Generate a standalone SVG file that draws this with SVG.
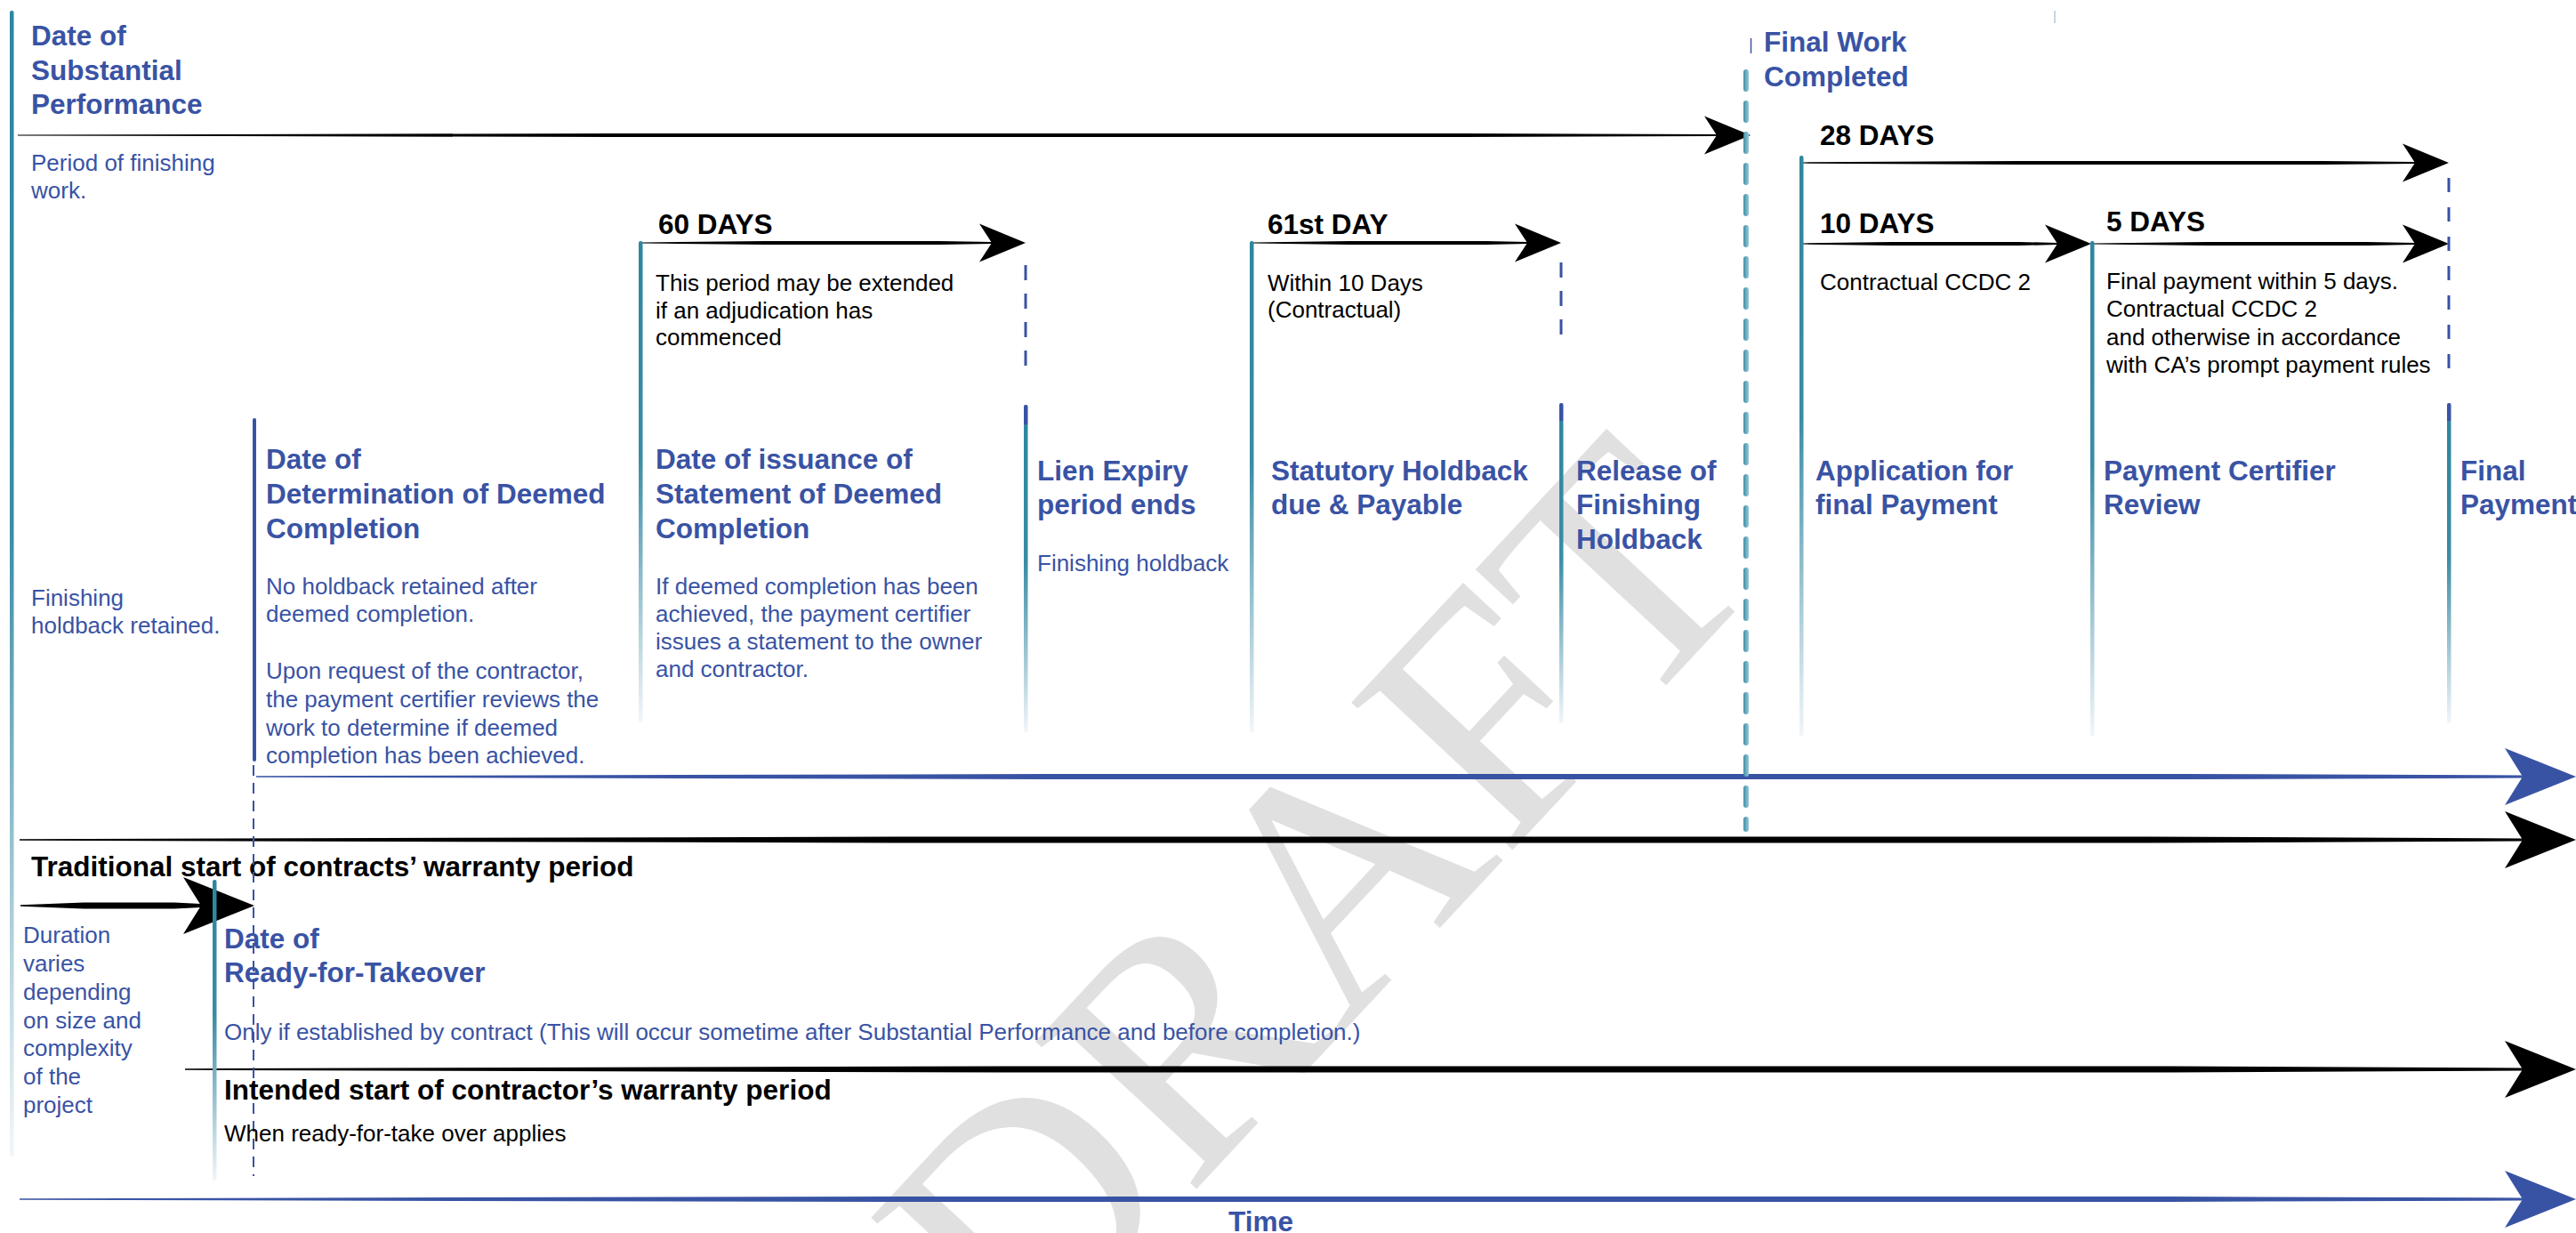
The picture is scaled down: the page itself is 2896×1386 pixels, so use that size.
<svg xmlns="http://www.w3.org/2000/svg" xmlns:xlink="http://www.w3.org/1999/xlink" width="2896" height="1386" viewBox="0 0 2896 1386">
<style>
text{font-family:"Liberation Sans",Arial,sans-serif}
.hb{font-size:31.5px;font-weight:bold;fill:#3953a4}
.hk{font-size:31.5px;font-weight:bold;fill:#000}
.tb{font-size:26px;fill:#3953a4}
.tk{font-size:26px;fill:#000}
.wm{font-family:"Liberation Serif","Times New Roman",serif;font-size:375px;fill:#e0e0e0}
.bar{fill:url(#tealFade)}
.cap{fill:#3953a4}
.dash{stroke:#3953a4;stroke-width:3;fill:none;stroke-dasharray:17 15}
.k{fill:#000}
.b{fill:#3953a4}
</style>
<defs>
<linearGradient id="tealFade" x1="0" y1="0" x2="0" y2="1">
<stop offset="0" stop-color="#2e86a0"/>
<stop offset="0.45" stop-color="#3a8ca4"/>
<stop offset="1" stop-color="#f2f6fa"/>
</linearGradient>
<linearGradient id="fwGrad" gradientUnits="userSpaceOnUse" x1="1959" y1="0" x2="1968" y2="0">
<stop offset="0" stop-color="#2e86a0"/>
<stop offset="1" stop-color="#b9dbe4"/>
</linearGradient>
<path id="headM" d="M0,0 L-52,-21.5 L-38,0 L-52,21.5 Z"/>
<path id="headL" d="M0,0 L-80,-32 L-60,0 L-80,32 Z"/>
</defs>
<rect width="2896" height="1386" fill="#fff"/>

<g id="watermark">
<text class="wm" text-anchor="middle" transform="translate(1480,1010) rotate(-47)" x="0" y="124">DRAFT</text>
</g>

<g id="connectors">
<g id="arrow-finishing-period" class="k">
<path d="M20,151.4 L688,150 L1644,150 L1930,151 L1930,153 L1644,154 L688,154 L20,152.6 Z"/>
<use xlink:href="#headM" transform="translate(1968,152)"/>
</g>
<g id="arrow-60-days" class="k">
<path d="M722,272.4 L860,271 L1056,271 L1115,272 L1115,274 L1056,275 L860,275 L722,273.6 Z"/>
<use xlink:href="#headM" transform="translate(1153,273)"/>
</g>
<g id="arrow-61st-day" class="k">
<path d="M1409,272.4 L1517,271 L1671,271 L1717,272 L1717,274 L1671,275 L1517,275 L1409,273.6 Z"/>
<use xlink:href="#headM" transform="translate(1755,273)"/>
</g>
<g id="arrow-28-days" class="k">
<path d="M2027,182.4 L2268,181 L2612,181 L2715,182 L2715,184 L2612,185 L2268,185 L2027,183.6 Z"/>
<use xlink:href="#headM" transform="translate(2753,183)"/>
</g>
<g id="arrow-10-days" class="k">
<path d="M2027,273.4 L2127,272 L2270,272 L2313,273 L2313,275 L2270,276 L2127,276 L2027,274.6 Z"/>
<use xlink:href="#headM" transform="translate(2351,274)"/>
</g>
<g id="arrow-5-days" class="k">
<path d="M2354,273.4 L2480,272 L2661,272 L2715,273 L2715,275 L2661,276 L2480,276 L2354,274.6 Z"/>
<use xlink:href="#headM" transform="translate(2753,274)"/>
</g>
<g id="arrow-deemed" class="b">
<path d="M288,872.2 L1180,870 L2454,870 L2836,871.5 L2836,874.5 L2454,876 L1180,876 L288,873.8 Z"/>
<use xlink:href="#headL" transform="translate(2896,873)"/>
</g>
<g id="arrow-traditional" class="k">
<path d="M22,943.2 L1007,940.5 L2414,940.5 L2836,942.5 L2836,945.5 L2414,947.5 L1007,947.5 L22,944.8 Z"/>
<use xlink:href="#headL" transform="translate(2896,944)"/>
</g>
<g id="arrow-duration" class="k">
<path d="M23,1017.2 L94,1014.5 L196,1014.5 L226,1016 L226,1020 L196,1021.5 L94,1021.5 L23,1018.8 Z"/>
<use xlink:href="#headL" transform="translate(286,1018)"/>
</g>
<g id="arrow-intended" class="k">
<path d="M208,1201.2 L1128,1198.5 L2442,1198.5 L2836,1200.5 L2836,1203.5 L2442,1205.5 L1128,1205.5 L208,1202.8 Z"/>
<use xlink:href="#headL" transform="translate(2896,1202)"/>
</g>
<g id="arrow-time" class="b">
<path d="M22,1347.2 L1000,1345 L2440,1345 L2836,1346.5 L2836,1349.5 L2440,1351 L1000,1351 L22,1348.8 Z"/>
<use xlink:href="#headL" transform="translate(2896,1348)"/>
</g>
</g>

<g id="node-substantial-performance">
<rect class="bar" x="11" y="12" width="4.5" height="1288" rx="2"/>
<text class="hb" x="35" y="51">Date of</text>
<text class="hb" x="35" y="90">Substantial</text>
<text class="hb" x="35" y="128">Performance</text>
<text class="tb" x="35" y="192">Period of finishing</text>
<text class="tb" x="35" y="223">work.</text>
<text class="tb" x="35" y="681">Finishing</text>
<text class="tb" x="35" y="712">holdback retained.</text>
</g>

<g id="node-deemed-determination">
<rect class="cap" x="284" y="470" width="4" height="386" rx="2"/>
<text class="hb" x="299" y="527">Date of</text>
<text class="hb" x="299" y="566">Determination of Deemed</text>
<text class="hb" x="299" y="605">Completion</text>
<text class="tb" x="299" y="668">No holdback retained after</text>
<text class="tb" x="299" y="699">deemed completion.</text>
<text class="tb" x="299" y="763">Upon request of the contractor,</text>
<text class="tb" x="299" y="795">the payment certifier reviews the</text>
<text class="tb" x="299" y="827">work to determine if deemed</text>
<text class="tb" x="299" y="858">completion has been achieved.</text>
</g>

<g id="node-statement-issuance">
<rect class="bar" x="718" y="271" width="4.5" height="541" rx="2"/>
<text class="hk" x="740" y="263">60 DAYS</text>
<text class="tk" x="737" y="327">This period may be extended</text>
<text class="tk" x="737" y="358">if an adjudication has</text>
<text class="tk" x="737" y="388">commenced</text>
<text class="hb" x="737" y="527">Date of issuance of</text>
<text class="hb" x="737" y="566">Statement of Deemed</text>
<text class="hb" x="737" y="605">Completion</text>
<text class="tb" x="737" y="668">If deemed completion has been</text>
<text class="tb" x="737" y="699">achieved, the payment certifier</text>
<text class="tb" x="737" y="730">issues a statement to the owner</text>
<text class="tb" x="737" y="761">and contractor.</text>
</g>

<g id="node-lien-expiry">
<line class="dash" x1="1153" y1="298" x2="1153" y2="420"/>
<rect class="cap" x="1151" y="455" width="4.5" height="24" rx="2"/>
<rect class="bar" x="1151" y="477" width="4.5" height="346" rx="2"/>
<text class="hb" x="1166" y="540">Lien Expiry</text>
<text class="hb" x="1166" y="578">period ends</text>
<text class="tb" x="1166" y="642">Finishing holdback</text>
</g>

<g id="node-statutory-holdback">
<rect class="bar" x="1405" y="271" width="4.5" height="552" rx="2"/>
<text class="hk" x="1425" y="263">61st DAY</text>
<text class="tk" x="1425" y="327">Within 10 Days</text>
<text class="tk" x="1425" y="357">(Contractual)</text>
<text class="hb" x="1429" y="540">Statutory Holdback</text>
<text class="hb" x="1429" y="578">due &amp; Payable</text>
</g>

<g id="node-release-finishing">
<line class="dash" x1="1755" y1="295" x2="1755" y2="385"/>
<rect class="cap" x="1753" y="453" width="4.5" height="22" rx="2"/>
<rect class="bar" x="1753" y="473" width="4.5" height="340" rx="2"/>
<text class="hb" x="1772" y="540">Release of</text>
<text class="hb" x="1772" y="578">Finishing</text>
<text class="hb" x="1772" y="617">Holdback</text>
</g>

<g id="node-final-work">
<line x1="1968.5" y1="43" x2="1968.5" y2="60" stroke="#3953a4" stroke-width="1.5"/>
<line x1="1963" y1="81" x2="1963" y2="932" stroke="url(#fwGrad)" stroke-width="6" stroke-linecap="round" stroke-dasharray="19 16"/>
<text class="hb" x="1983" y="58">Final Work</text>
<text class="hb" x="1983" y="97">Completed</text>
<rect x="2309" y="12" width="2" height="14" fill="#c9d5de"/>
</g>

<g id="node-application">
<rect class="bar" x="2023" y="175" width="4.5" height="653" rx="2"/>
<text class="hk" x="2046" y="163">28 DAYS</text>
<text class="hk" x="2046" y="262">10 DAYS</text>
<text class="tk" x="2046" y="326">Contractual CCDC 2</text>
<text class="hb" x="2041" y="540">Application for</text>
<text class="hb" x="2041" y="578">final Payment</text>
</g>

<g id="node-payment-certifier">
<rect class="bar" x="2350" y="271" width="4.5" height="557" rx="2"/>
<text class="hk" x="2368" y="260">5 DAYS</text>
<text class="tk" x="2368" y="325">Final payment within 5 days.</text>
<text class="tk" x="2368" y="356">Contractual CCDC 2</text>
<text class="tk" x="2368" y="388">and otherwise in accordance</text>
<text class="tk" x="2368" y="419">with CA’s prompt payment rules</text>
<text class="hb" x="2365" y="540">Payment Certifier</text>
<text class="hb" x="2365" y="578">Review</text>
</g>

<g id="node-final-payment">
<line class="dash" x1="2753" y1="200" x2="2753" y2="418" style="stroke-dasharray:16 17"/>
<rect class="cap" x="2751" y="453" width="4.5" height="22" rx="2"/>
<rect class="bar" x="2751" y="473" width="4.5" height="340" rx="2"/>
<text class="hb" x="2766" y="540">Final</text>
<text class="hb" x="2766" y="578">Payment</text>
</g>

<g id="node-warranty-traditional">
<text class="hk" x="35" y="985">Traditional start of contracts’ warranty period</text>
</g>

<g id="node-duration">
<text class="tb" x="26" y="1060">Duration</text>
<text class="tb" x="26" y="1092">varies</text>
<text class="tb" x="26" y="1124">depending</text>
<text class="tb" x="26" y="1156">on size and</text>
<text class="tb" x="26" y="1187">complexity</text>
<text class="tb" x="26" y="1219">of the</text>
<text class="tb" x="26" y="1251">project</text>
</g>

<g id="node-ready-for-takeover">
<rect class="bar" x="239" y="989" width="4.5" height="338" rx="2"/>
<line x1="285" y1="860" x2="285" y2="1322" stroke="#3953a4" stroke-width="2" stroke-dasharray="12 8"/>
<text class="hb" x="252" y="1066">Date of</text>
<text class="hb" x="252" y="1104">Ready-for-Takeover</text>
<text class="tb" x="252" y="1169">Only if established by contract (This will occur sometime after Substantial Performance and before completion.)</text>
<text class="hk" x="252" y="1236">Intended start of contractor’s warranty period</text>
<text class="tk" x="252" y="1283">When ready-for-take over applies</text>
</g>

<g id="node-time">
<text class="hb" x="1381" y="1384">Time</text>
</g>
</svg>
